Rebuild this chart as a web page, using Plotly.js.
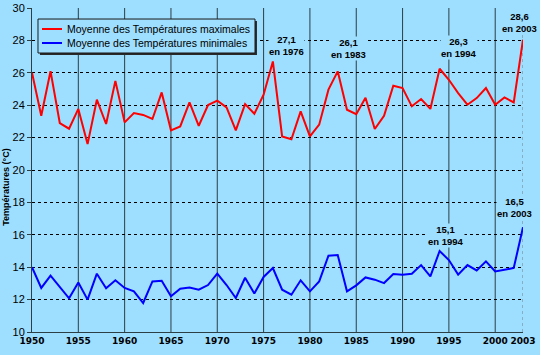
<!DOCTYPE html>
<html>
<head>
<meta charset="utf-8">
<script src="https://cdn.plot.ly/plotly-3.0.1.min.js"></script>
<style>html,body{margin:0;padding:0;background:#9EDEFF;}#chart{width:540px;height:355px;}</style>
</head>
<body>
<div id="chart"></div>
<script>
const years = [1950,1951,1952,1953,1954,1955,1956,1957,1958,1959,1960,1961,1962,1963,1964,1965,1966,1967,1968,1969,1970,1971,1972,1973,1974,1975,1976,1977,1978,1979,1980,1981,1982,1983,1984,1985,1986,1987,1988,1989,1990,1991,1992,1993,1994,1995,1996,1997,1998,1999,2000,2001,2002,2003];
const tmax = [26.0,23.35,26.1,22.9,22.55,23.77,21.6,24.34,22.84,25.5,22.94,23.52,23.4,23.15,24.79,22.45,22.69,24.17,22.73,24.01,24.28,23.86,22.45,24.07,23.47,24.65,26.7,22.07,21.9,23.62,22.07,22.8,24.96,26.09,23.72,23.44,24.46,22.53,23.35,25.2,25.06,23.93,24.38,23.77,26.25,25.57,24.75,24.03,24.44,25.06,24.03,24.48,24.17,28.04];
const tmin = [14.0,12.72,13.48,12.78,12.08,13.06,12.0,13.6,12.7,13.19,12.72,12.51,11.79,13.12,13.16,12.2,12.67,12.75,12.61,12.9,13.6,12.9,12.1,13.35,12.38,13.4,13.95,12.61,12.3,13.19,12.51,13.12,14.71,14.75,12.51,12.88,13.37,13.23,13.02,13.58,13.54,13.6,14.13,13.43,15.0,14.44,13.54,14.13,13.8,14.36,13.74,13.84,13.95,16.47];
const seriesNames = ["Moyenne des Températures maximales","Moyenne des Températures minimales"];
const seriesColors = ["#FF0000","#0000FF"];
const xTicks = [1950,1955,1960,1965,1970,1975,1980,1985,1990,1995,2000,2003];
const yTicks = [10,12,14,16,18,20,22,24,26,28,30];
const noteYears = [1976,1983,1994,2003,1994,2003];
const noteVals = ["27,1","26,1","26,3","28,6","15,1","16,5"];

const bg = "#9EDEFF";
const font = "Liberation Sans, Arial, sans-serif";

const traces = [tmax, tmin].map((vals, i) => ({
  x: years, y: vals, name: seriesNames[i], type: "scatter", mode: "lines",
  line: {color: seriesColors[i], width: 2}, showlegend: false
}));

// vertical grid lines at every x tick
const shapes = xTicks.slice(1).map(v => ({
  type: "line", xref: "x", yref: "paper", x0: v, x1: v, y0: 0, y1: 1, layer: "below",
  line: v === 2003 ? {color: "#6f8088", width: 1, dash: "dot"} : {color: "#2b3f45", width: 1}
}));

// hand-drawn legend box (Excel style, with shadow)
const legendPlacement = {x0: 0.0122, x1: 0.4542, yTop: 0.966, yBot: 0.8611, rows: [0.9352, 0.892]};
shapes.push({type: "rect", xref: "paper", yref: "paper", x0: legendPlacement.x0 + 0.004, x1: legendPlacement.x1 + 0.004,
  y0: legendPlacement.yBot - 0.0062, y1: legendPlacement.yTop - 0.0062, fillcolor: "#2a2a2a", line: {width: 0}, layer: "above"});
shapes.push({type: "rect", xref: "paper", yref: "paper", x0: legendPlacement.x0, x1: legendPlacement.x1,
  y0: legendPlacement.yBot, y1: legendPlacement.yTop, fillcolor: bg, line: {color: "#1a1a1a", width: 1}, layer: "above"});
seriesNames.forEach((n, i) => {
  shapes.push({type: "line", xref: "paper", yref: "paper", x0: 0.0204, x1: 0.0611,
    y0: legendPlacement.rows[i], y1: legendPlacement.rows[i], line: {color: seriesColors[i], width: 2}, layer: "above"});
});

const notePlacement = [
  {y: 27.67, dx: 14}, {y: 27.49, dx: 11}, {y: 27.55, dx: 19},
  {y: 29.12, dx: -4}, {y: 15.94, dx: 6}, {y: 17.70, dx: -9}
];
const annotations = noteYears.map((yr, i) => ({
  x: yr, y: notePlacement[i].y, xref: "x", yref: "y", xshift: notePlacement[i].dx,
  text: "<b>" + noteVals[i] + "<br>en " + yr + "</b>",
  showarrow: false, bgcolor: bg, borderpad: 0,
  font: {family: font, size: 9.5, color: "#000"},
  xanchor: "center", yanchor: "middle"
}));
seriesNames.forEach((n, i) => {
  annotations.push({x: 0.0672, y: legendPlacement.rows[i], xref: "paper", yref: "paper",
    text: n, showarrow: false, xanchor: "left", yanchor: "middle",
    font: {family: font, size: 10.5, color: "#000"}});
});
annotations.push({x: -0.053, y: 0.448, xref: "paper", yref: "paper", textangle: -90,
  text: "<b>Températures (°C)</b>", showarrow: false, xanchor: "center", yanchor: "middle",
  font: {family: font, size: 9, color: "#000"}});

const layout = {
  width: 540, height: 355,
  paper_bgcolor: bg, plot_bgcolor: bg,
  margin: {l: 32, r: 17, t: 8, b: 23},
  showlegend: false,
  xaxis: {
    range: [1950, 2003], tickvals: xTicks, ticktext: xTicks.map(String),
    showgrid: false, zeroline: false, showline: true, linecolor: "#2b3f45", linewidth: 1,
    ticks: "", tickfont: {family: "DejaVu Sans, Verdana, sans-serif", size: 9, color: "#000", weight: "bold"}
  },
  yaxis: {
    range: [10, 30], tickvals: yTicks, showgrid: true, gridcolor: "#000", griddash: "3px,3px", gridwidth: 1,
    zeroline: false, showline: true, linecolor: "#2b3f45", linewidth: 1,
    ticks: "outside", ticklen: 4, tickcolor: "#2b3f45",
    tickfont: {family: font, size: 11, color: "#000"}
  },
  shapes: shapes,
  annotations: annotations
};

Plotly.newPlot("chart", traces, layout, {displayModeBar: false, staticPlot: true});
</script>
</body>
</html>
